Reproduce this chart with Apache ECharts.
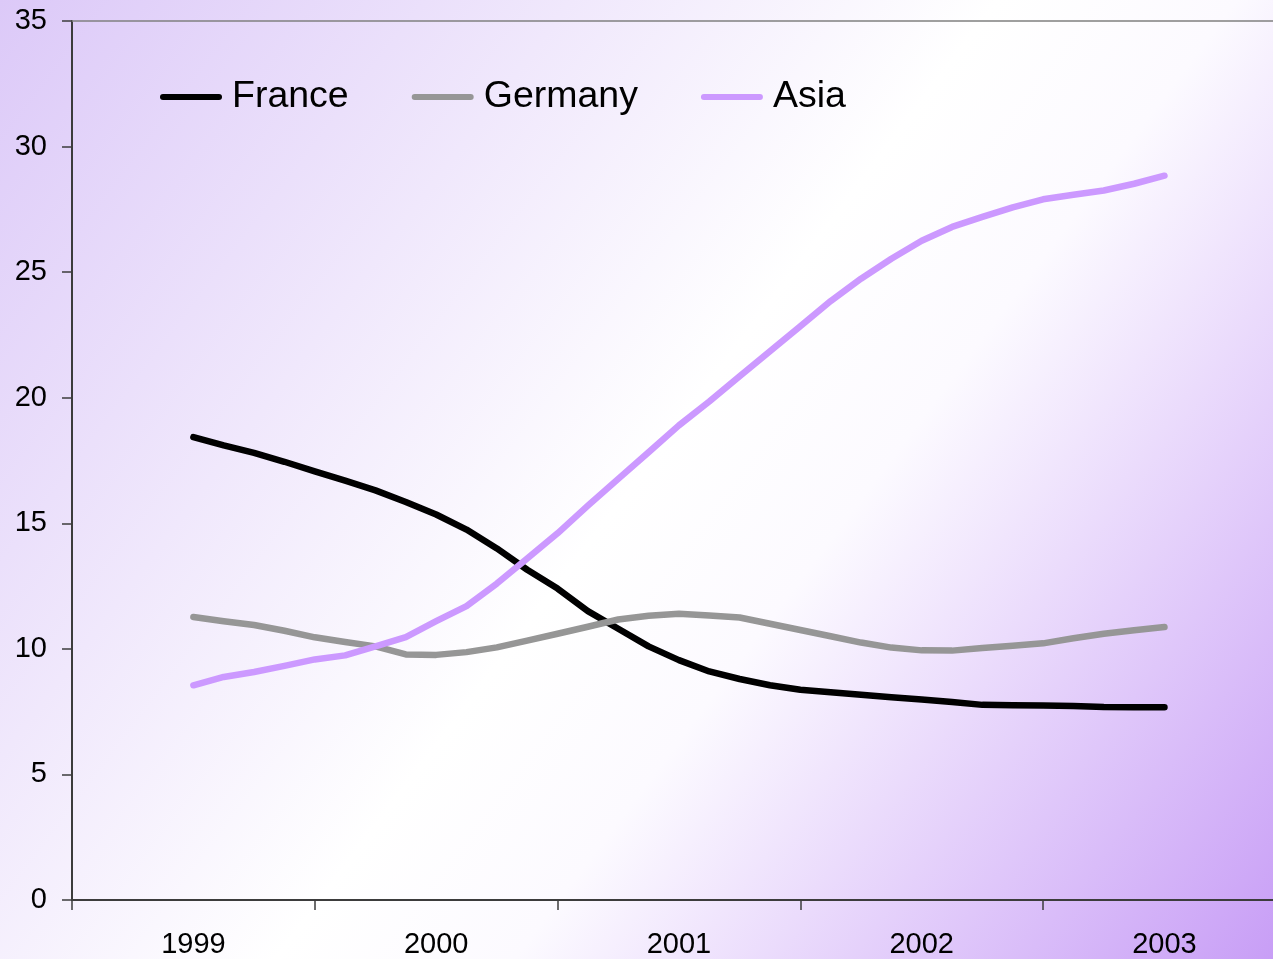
<!DOCTYPE html>
<html>
<head>
<meta charset="utf-8">
<title>France, Germany, Asia 1999-2003</title>
<script src="https://cdn.jsdelivr.net/npm/echarts@6/dist/echarts.min.js"></script>
<style>
  html, body { margin: 0; padding: 0; }
  #chart { width: 1273px; height: 959px; }
</style>
</head>
<body>
<div id="chart"></div>
<script>
// Year labels along the x axis; each year is split into 8 sub-periods.
const years = ['1999', '2000', '2001', '2002', '2003'];
const periodsPerYear = 8;

// Values per sub-period, from 1999 to 2003.
const france = [
  18.43, 18.1, 17.8, 17.45, 17.07, 16.7, 16.31, 15.85,
  15.35, 14.75, 14.0, 13.15, 12.4, 11.5, 10.8, 10.1,
  9.55, 9.1, 8.8, 8.55, 8.37, 8.27, 8.17, 8.07,
  7.98, 7.88, 7.77, 7.75, 7.74, 7.72, 7.68, 7.67,
  7.67
];
const germany = [
  11.27, 11.1, 10.95, 10.72, 10.46, 10.27, 10.1, 9.78,
  9.76, 9.87, 10.06, 10.33, 10.6, 10.88, 11.17, 11.32,
  11.4, 11.33, 11.25, 11.0, 10.75, 10.5, 10.25, 10.05,
  9.94, 9.93, 10.03, 10.12, 10.22, 10.42, 10.6, 10.74,
  10.87
];
const asia = [
  8.55, 8.88, 9.08, 9.32, 9.58, 9.74, 10.1, 10.47,
  11.1, 11.7, 12.6, 13.6, 14.6, 15.7, 16.77, 17.83,
  18.9, 19.85, 20.85, 21.85, 22.85, 23.85, 24.74, 25.53,
  26.25, 26.8, 27.2, 27.58, 27.9, 28.08, 28.25, 28.52,
  28.84
];
const yTicks = [0, 5, 10, 15, 20, 25, 30, 35];

const FONT = "'Liberation Sans', Arial, sans-serif";

// Pair each value with its position in years (0 = 1999).
function toPoints(values) {
  return values.map((v, i) => [i / periodsPerYear, v]);
}

// Labels sit on each year; ticks sit halfway between years.
const yearCenters = years.map((_, i) => i);
const yearBounds = years.map((_, i) => i - 0.5);

const legendIcon = 'path://M3,0 L59,0 A3,3 0 0 1 59,6 L3,6 A3,3 0 0 1 3,0 Z';

const chart = echarts.init(document.getElementById('chart'), null, { renderer: 'canvas' });

const lineWidth = 6.5;

chart.setOption({
  animation: false,
  backgroundColor: {
    type: 'linear', x: 0, y: 0, x2: 1, y2: 1,
    colorStops: [
      { offset: 0, color: '#dcc9f8' },
      { offset: 0.5, color: '#ffffff' },
      { offset: 0.62, color: '#fcfaff' },
      { offset: 1, color: '#c89ef6' }
    ]
  },
  grid: { left: 72, right: 0, top: 21, bottom: 59, containLabel: false },
  legend: {
    left: 155,
    top: 73,
    itemWidth: 62,
    itemHeight: 6,
    itemGap: 63,
    icon: legendIcon,
    textStyle: { fontFamily: FONT, fontSize: 37.5, color: '#000000', padding: [0, 0, 0, 5] },
    data: ['France', 'Germany', 'Asia']
  },
  xAxis: [
    {
      type: 'value',
      min: -0.5,
      max: 4.447,
      axisLine: { show: true, onZero: false, lineStyle: { color: '#3c3c3c', width: 2 } },
      axisTick: { show: true, length: 10, customValues: yearBounds, lineStyle: { color: '#3c3c3c', width: 1.5 } },
      axisLabel: {
        customValues: yearCenters,
        margin: 30,
        fontFamily: FONT,
        fontSize: 29,
        color: '#000000',
        formatter: (v) => years[Math.round(v)] || ''
      },
      splitLine: { show: false }
    },
    {
      type: 'value',
      position: 'top',
      min: -0.5,
      max: 4.447,
      axisLine: { show: true, onZero: false, lineStyle: { color: '#808080', width: 1.5 } },
      axisTick: { show: false },
      axisLabel: { show: false },
      splitLine: { show: false }
    }
  ],
  yAxis: {
    type: 'value',
    min: yTicks[0],
    max: yTicks[yTicks.length - 1],
    interval: 5,
    axisLine: { show: true, onZero: false, lineStyle: { color: '#3c3c3c', width: 2 } },
    axisTick: { show: true, length: 10, lineStyle: { color: '#3c3c3c', width: 1.5 } },
    axisLabel: { margin: 25, fontFamily: FONT, fontSize: 29, color: '#000000' },
    splitLine: { show: false }
  },
  series: [
    {
      name: 'France', type: 'line', data: toPoints(france),
      symbol: 'none', color: '#000000',
      lineStyle: { width: lineWidth, color: '#000000', cap: 'round', join: 'round' }
    },
    {
      name: 'Germany', type: 'line', data: toPoints(germany),
      symbol: 'none', color: '#969696',
      lineStyle: { width: lineWidth, color: '#969696', cap: 'round', join: 'round' }
    },
    {
      name: 'Asia', type: 'line', data: toPoints(asia),
      symbol: 'none', color: '#cc99ff',
      lineStyle: { width: lineWidth, color: '#cc99ff', cap: 'round', join: 'round' }
    }
  ]
});
</script>
</body>
</html>
